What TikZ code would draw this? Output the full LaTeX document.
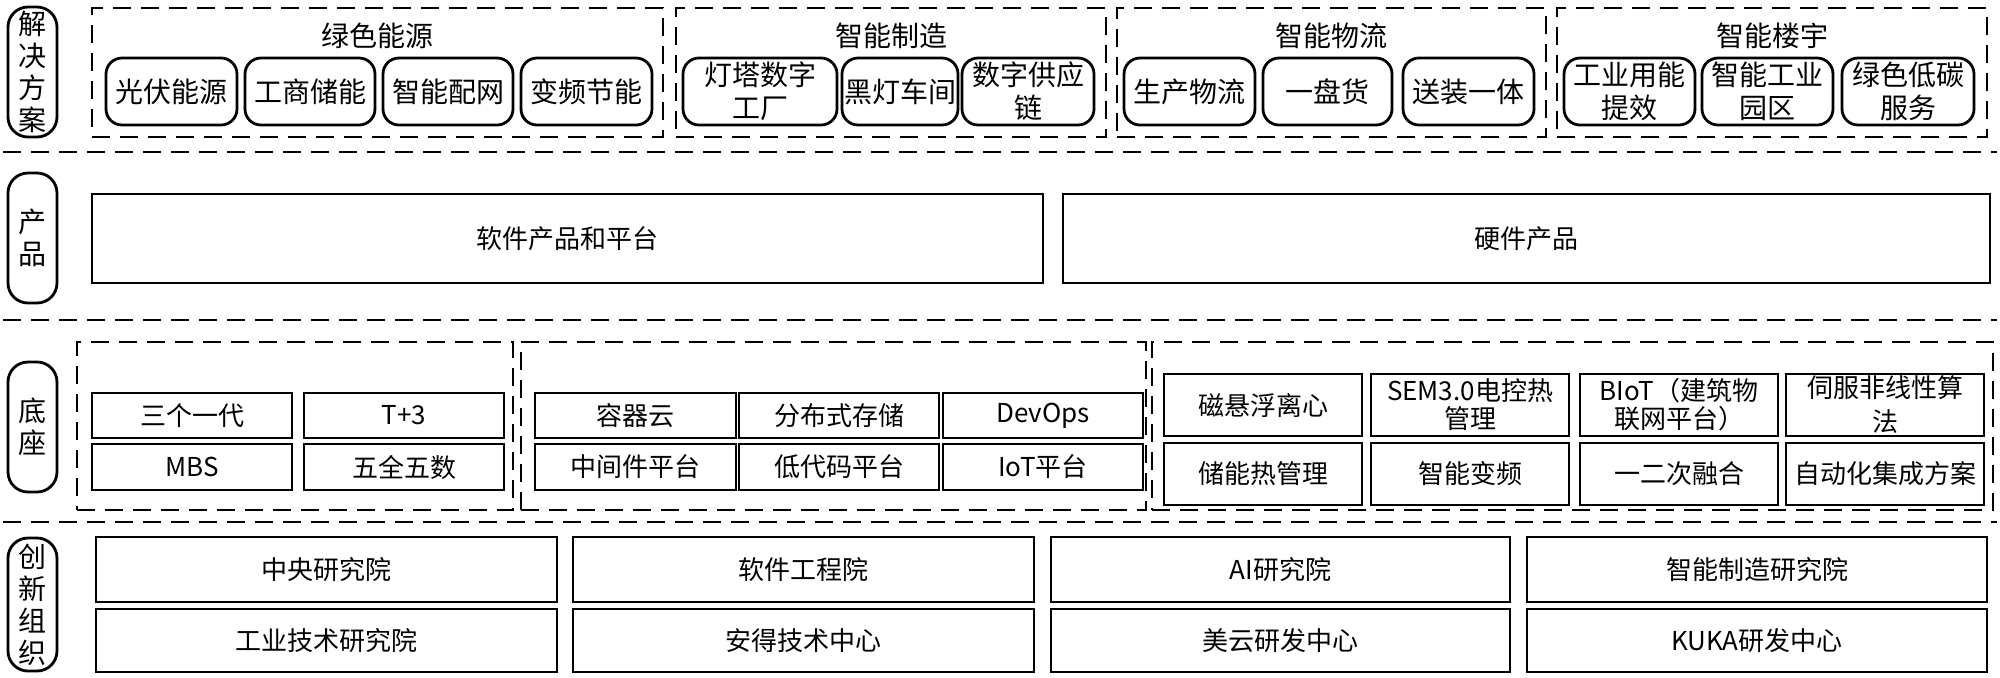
\documentclass[tikz,border=0pt]{standalone}
\usepackage{fontspec}
\setmainfont{Noto Sans CJK SC}
\newcommand\mybox[7][]{\node[#1,minimum width={(#5-#3)*0.5pt},minimum height={(#6-#4)*0.5pt}] (#2) at ({(#3+#5)/2},{(#4+#6)/2}) {#7};}
\begin{document}
\begin{tikzpicture}[x=0.5pt,y=-0.5pt,
  every node/.style={inner sep=0pt,outer sep=0pt,font=\fontsize{13}{16.5}\selectfont,align=center},
  rbox/.style={draw,line width=1.4pt,rounded corners=8pt,font=\fontsize{14}{16.5}\selectfont},
  sbox/.style={draw,line width=1.4pt},
  tbox/.style={draw,line width=1.4pt,font=\fontsize{13}{14}\selectfont},
  lbox/.style={draw,line width=1.4pt,rounded corners=10pt,font=\fontsize{14}{16}\selectfont},
  grp/.style={draw,line width=1.3pt,dash pattern=on 9pt off 5pt},
  sep/.style={line width=1.3pt,dash pattern=on 9pt off 5pt},
  ttl/.style={font=\fontsize{14}{16}\selectfont}]
\useasboundingbox (0,0) rectangle (2000,677);
% ---------- row 1 ----------
\mybox[lbox]{L1}{8}{7}{57}{137}{解\\决\\方\\案}
\mybox[grp]{G1}{92}{8}{663}{137}{}
\mybox[grp]{G2}{676}{8}{1106}{137}{}
\mybox[grp]{G3}{1117}{8}{1546}{137}{}
\mybox[grp]{G4}{1557}{8}{1987}{137}{}
\node[ttl] (T1) at (377,36) {绿色能源};
\node[ttl] (T2) at (891,36) {智能制造};
\node[ttl] (T3) at (1331,36) {智能物流};
\node[ttl] (T4) at (1772,36) {智能楼宇};
\mybox[rbox]{A1}{106}{58}{237}{125}{光伏能源}
\mybox[rbox]{A2}{245}{58}{375}{125}{工商储能}
\mybox[rbox]{A3}{383}{58}{513}{125}{智能配网}
\mybox[rbox]{A4}{521}{58}{652}{125}{变频节能}
\mybox[rbox]{B1}{683}{58}{837}{125}{灯塔数字\\工厂}
\mybox[rbox]{B2}{842}{58}{958}{125}{黑灯车间}
\mybox[rbox]{B3}{962}{58}{1094}{125}{数字供应\\链}
\mybox[rbox]{C1}{1124}{58}{1255}{125}{生产物流}
\mybox[rbox]{C2}{1263}{58}{1392}{125}{一盘货}
\mybox[rbox]{C3}{1403}{58}{1534}{125}{送装一体}
\mybox[rbox]{D1}{1564}{58}{1695}{125}{工业用能\\提效}
\mybox[rbox]{D2}{1702}{58}{1833}{125}{智能工业\\园区}
\mybox[rbox]{D3}{1842}{58}{1974}{125}{绿色低碳\\服务}
% separator 1
\coordinate (S1a) at (3,152); \coordinate (S1b) at (1997,152);
\draw[sep] (S1a) -- (S1b);
% ---------- row 2 ----------
\mybox[lbox]{L2}{8}{173}{57}{303}{产\\品}
\mybox[sbox]{P1}{92}{194}{1043}{283}{软件产品和平台}
\mybox[sbox]{P2}{1063}{194}{1990}{283}{硬件产品}
% separator 2
\coordinate (S2a) at (3,320); \coordinate (S2b) at (1997,320);
\draw[sep] (S2a) -- (S2b);
% ---------- row 3 ----------
\mybox[lbox]{L3}{8}{362}{57}{492}{底\\座}
\mybox[grp]{H1}{77}{342}{513}{510}{}
\mybox[grp]{H2}{521}{342}{1146}{510}{}
\mybox[grp]{H3}{1152}{342}{1993}{510}{}
\mybox[sbox]{E1}{92}{393}{292}{438}{三个一代}
\mybox[sbox]{E2}{304}{393}{504}{438}{T+3}
\mybox[sbox]{E3}{92}{444}{292}{490}{MBS}
\mybox[sbox]{E4}{304}{444}{504}{490}{五全五数}
\mybox[sbox]{F1}{535}{393}{736}{438}{容器云}
\mybox[sbox]{F2}{739}{393}{939}{438}{分布式存储}
\mybox[sbox]{F3}{943}{393}{1143}{438}{DevOps}
\mybox[sbox]{F4}{535}{444}{736}{490}{中间件平台}
\mybox[sbox]{F5}{739}{444}{939}{490}{低代码平台}
\mybox[sbox]{F6}{943}{444}{1143}{490}{IoT平台}
\mybox[tbox]{K1}{1164}{374}{1362}{436}{磁悬浮离心}
\mybox[tbox]{K2}{1371}{374}{1569}{436}{SEM3.0电控热\\管理}
\mybox[tbox]{K3}{1580}{374}{1778}{436}{BIoT（建筑物\\联网平台）}
\mybox[tbox,font=\fontsize{13}{17}\selectfont]{K4}{1786}{374}{1984}{436}{伺服非线性算\\法}
\mybox[tbox]{K5}{1164}{443}{1362}{505}{储能热管理}
\mybox[tbox]{K6}{1371}{443}{1569}{505}{智能变频}
\mybox[tbox]{K7}{1580}{443}{1778}{505}{一二次融合}
\mybox[tbox]{K8}{1786}{443}{1984}{505}{自动化集成方案}
% separator 3
\coordinate (S3a) at (3,522); \coordinate (S3b) at (1997,522);
\draw[sep] (S3a) -- (S3b);
% ---------- row 4 ----------
\mybox[lbox]{L4}{8}{538}{57}{671}{创\\新\\组\\织}
\mybox[sbox]{R1}{96}{537}{557}{602}{中央研究院}
\mybox[sbox]{R2}{573}{537}{1034}{602}{软件工程院}
\mybox[sbox]{R3}{1051}{537}{1510}{602}{AI研究院}
\mybox[sbox]{R4}{1527}{537}{1987}{602}{智能制造研究院}
\mybox[sbox]{R5}{96}{609}{557}{672}{工业技术研究院}
\mybox[sbox]{R6}{573}{609}{1034}{672}{安得技术中心}
\mybox[sbox]{R7}{1051}{609}{1510}{672}{美云研发中心}
\mybox[sbox]{R8}{1527}{609}{1987}{672}{KUKA研发中心}
\end{tikzpicture}
\end{document}
